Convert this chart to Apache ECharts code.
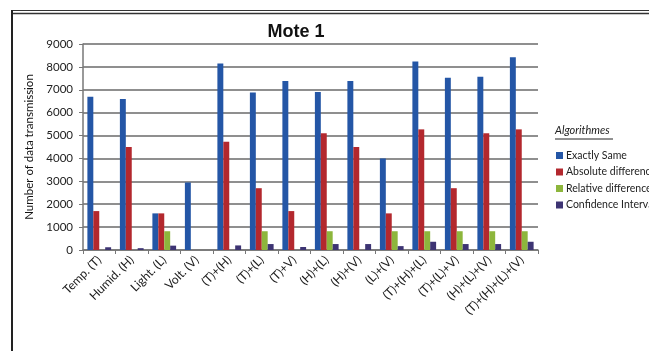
<!DOCTYPE html>
<html><head><meta charset="utf-8">
<script src="https://cdn.jsdelivr.net/npm/echarts@6/dist/echarts.min.js"></script>
<style>html,body{margin:0;padding:0;background:#fff}#c{width:649px;height:351px}</style>
</head><body><div id="c"></div>
<script>
const categories = ['Temp. (T)','Humid. (H)','Light. (L)','Volt. (V)','(T)+(H)','(T)+(L)','(T)+V)','(H)+(L)','(H)+(V)','(L)+(V)','(T)+(H)+(L)','(T)+(L)+V)','(H)+(L)+(V)','(T)+(H)+(L)+(V)'];
const seriesNames = ['Exactly Same','Absolute difference','Relative difference','Confidence Interval'];
const exactlySame = [6700,6600,1600,2950,8150,6880,7380,6900,7380,4000,8230,7530,7570,8420];
const absoluteDiff = [1700,4500,1600,0,4730,2700,1700,5100,4500,1600,5270,2700,5100,5270];
const relativeDiff = [0,0,820,0,0,820,0,820,0,820,820,820,820,820];
const confidence = [120,80,190,0,200,260,130,260,260,170,360,260,260,360];
const yTicks = {min:0,max:9000,interval:1000};
const colors = ['#2456A6','#B3282E','#8DB63C','#3D3473'];

const chart = echarts.init(document.getElementById('c'));
const font = 'Lato, "Open Sans", sans-serif';
const data = [exactlySame, absoluteDiff, relativeDiff, confidence];
chart.setOption({
  animation:false,
  textStyle:{fontFamily:font},
  title:{text:'Mote 1',left:291,textAlign:'center',top:18,textStyle:{fontSize:18,fontWeight:'bold',color:'#111',fontFamily:'"Liberation Sans", Arial, sans-serif'}},
  grid:{left:83,right:111,top:44,bottom:101},
  legend:{orient:'vertical',left:551,top:145,itemWidth:7,itemHeight:7,itemGap:5.5,icon:'rect',
    textStyle:{fontSize:10.5,color:'#222',fontFamily:font,padding:[0,0,0,-2]},data:seriesNames},
  xAxis:{type:'category',data:categories,
    axisLine:{lineStyle:{color:'#777',width:1.5}},
    axisTick:{show:true,alignWithLabel:false,length:4,lineStyle:{color:'#777'}},
    axisLabel:{rotate:45,fontSize:12,color:'#1a1a1a',margin:8,interval:0}},
  yAxis:{type:'value',min:yTicks.min,max:yTicks.max,interval:yTicks.interval,
    name:'Number of data transmission',nameLocation:'middle',nameGap:48,
    nameTextStyle:{fontSize:11.5,color:'#111',fontFamily:font},
    axisLine:{show:true,lineStyle:{color:'#777',width:1.5}},
    axisTick:{show:true,length:4,lineStyle:{color:'#777'}},
    axisLabel:{fontSize:11.5,color:'#222',margin:10,formatter:v=>String(v)},
    splitLine:{lineStyle:{color:'#6a6a6a',width:1.5}}},
  series: seriesNames.map((n,i)=>({name:n,type:'bar',data:data[i],barGap:'0%',barCategoryGap:'27%',itemStyle:{color:colors[i]}})),
  graphic:[
    {type:'line',shape:{x1:11,y1:10.5,x2:649,y2:10.5},style:{stroke:'#333',lineWidth:1}},
    {type:'line',shape:{x1:11,y1:13.5,x2:649,y2:13.5},style:{stroke:'#333',lineWidth:1.5}},
    {type:'line',shape:{x1:12,y1:10,x2:12,y2:351},style:{stroke:'#222',lineWidth:2}},
    {type:'text',left:555,top:125,style:{text:'Algorithmes',fontSize:11,fontStyle:'italic',fill:'#222',fontFamily:font}},
    {type:'line',shape:{x1:555,y1:139,x2:613,y2:139},style:{stroke:'#222',lineWidth:1}}
  ]
});
</script></body></html>
